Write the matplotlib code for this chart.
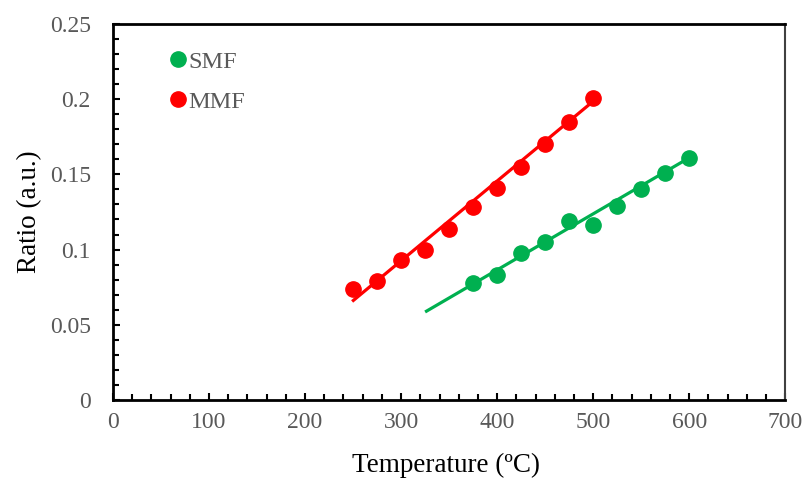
import numpy as np
import matplotlib
matplotlib.use("Agg")
import matplotlib.pyplot as plt
from matplotlib.ticker import MultipleLocator

smf_x = [375, 400, 425, 450, 475, 500, 525, 550, 575, 600]
smf_y = [0.078, 0.083, 0.098, 0.105, 0.119, 0.116, 0.129, 0.140, 0.151, 0.161]
mmf_x = [250, 275, 300, 325, 350, 375, 400, 425, 450, 475, 500]
mmf_y = [0.074, 0.079, 0.093, 0.100, 0.114, 0.128, 0.141, 0.155, 0.170, 0.185, 0.201]
smf_trend_x = [325, 600]
smf_trend_y = [0.0585, 0.161]
mmf_trend_x = [249, 497]
mmf_trend_y = [0.0655, 0.197]

plt.rcParams['font.family'] = ['Liberation Serif', 'DejaVu Serif']
green = '#00B050'
red = '#FF0000'
gray = '#595959'

fig = plt.figure(figsize=(8.05, 4.79), dpi=100)
ax = fig.add_axes([0.1404, 0.165, 0.835, 0.785])

ax.plot(smf_trend_x, smf_trend_y, color=green, lw=2.3, zorder=2, solid_capstyle='butt')
ax.plot(mmf_trend_x, mmf_trend_y, color=red, lw=2.3, zorder=2, solid_capstyle='butt')

ax.plot(smf_x, smf_y, 'o', color=green, ms=11, label='SMF', zorder=3)
ax.plot(mmf_x, mmf_y, 'o', color=red, ms=11, label='MMF', zorder=3)

ax.set_xlim(0, 700)
ax.set_ylim(0, 0.25)
ax.xaxis.set_major_locator(MultipleLocator(100))
ax.xaxis.set_minor_locator(MultipleLocator(20))
ax.yaxis.set_minor_locator(MultipleLocator(0.01))
ax.set_yticks([0, 0.05, 0.1, 0.15, 0.2, 0.25])
ax.set_yticklabels(['0', '0.05', '0.1', '0.15', '0.2', '0.25'])
ax.tick_params(which='both', direction='in', colors='black', labelcolor=gray,
               labelsize=17, width=1.5)
ax.tick_params(which='major', length=5)
ax.tick_params(which='minor', length=4)
ax.tick_params(axis='x', pad=9)
ax.tick_params(axis='y', pad=16)

for s in ['left', 'bottom', 'top']:
    ax.spines[s].set_linewidth(2)
    ax.spines[s].set_color('black')
ax.spines['right'].set_linewidth(1.5)
ax.spines['right'].set_color('#404040')

ax.set_xlabel('Temperature (ºC)', fontsize=19.5)
ax.set_ylabel('Ratio (a.u.)', fontsize=19.5)
ax.xaxis.set_label_coords(0.4955, -0.142)
ax.yaxis.set_label_coords(-0.106, 0.5)

leg = ax.legend(loc='upper left', bbox_to_anchor=(0.067, 0.955), frameon=False,
                fontsize=17.5, handletextpad=0.05, handlelength=0.8,
                labelspacing=0.75, borderaxespad=0)
for t in leg.get_texts():
    t.set_color(gray)

fig.savefig('out.png', dpi=100)
